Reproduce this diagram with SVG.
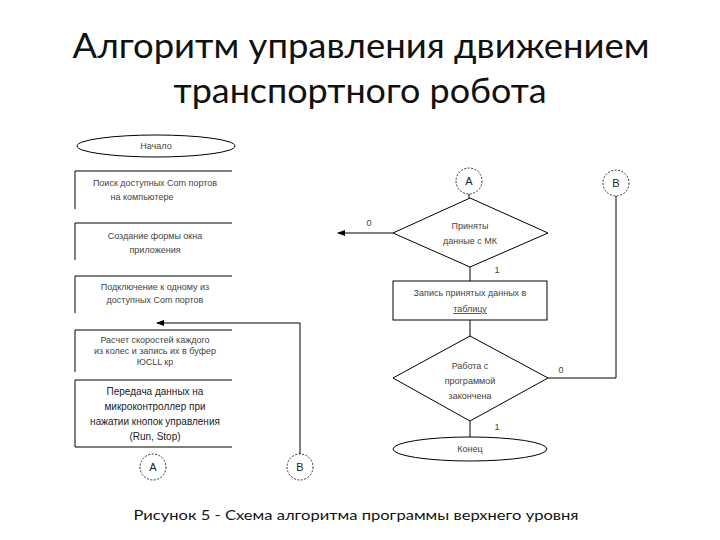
<svg xmlns="http://www.w3.org/2000/svg" width="720" height="540" viewBox="0 0 720 540">
<style>
.ln{fill:none;stroke:#000;stroke-width:1}
.sh{fill:#fff;stroke:#000;stroke-width:1}
.cn{fill:#fff;stroke:#000;stroke-width:0.8;stroke-dasharray:2,1.5}
.t{font-family:"Liberation Sans",Arial,sans-serif;font-size:9px;fill:#444;text-anchor:middle}
.tb{font-family:"Liberation Sans",Arial,sans-serif;font-size:10px;fill:#222;text-anchor:middle}
.tc{font-family:"Liberation Sans",Arial,sans-serif;font-size:11px;fill:#222;text-anchor:middle}
.title{font-family:Lato,"Open Sans",sans-serif;font-size:34px;fill:#111;text-anchor:middle}
.cap{font-family:Lato,"Open Sans",sans-serif;font-size:14px;fill:#111;text-anchor:middle}
</style>
<defs>
<marker id="ah" markerWidth="8" markerHeight="6" refX="7" refY="3" orient="auto" markerUnits="userSpaceOnUse">
<path d="M0,0 L8,3 L0,6 z" fill="#000"/>
</marker>
</defs>
<rect width="720" height="540" fill="#fff"/>
<text class="title" x="361" y="58" textLength="577" lengthAdjust="spacingAndGlyphs">Алгоритм управления движением</text>
<text class="title" x="360" y="103" textLength="373" lengthAdjust="spacingAndGlyphs">транспортного робота</text>

<g id="connectors">
<polyline class="ln" points="300,454 300,323 157,323" marker-end="url(#ah)"/>
<line class="ln" x1="469" y1="194" x2="469" y2="198"/>
<line class="ln" x1="393" y1="233" x2="338" y2="233" marker-end="url(#ah)"/>
<text class="t" x="369" y="226">0</text>
<line class="ln" x1="470" y1="267" x2="470" y2="281"/>
<text class="t" x="497" y="273">1</text>
<line class="ln" x1="470" y1="320" x2="470" y2="336"/>
<polyline class="ln" points="616,196 616,378 548,378"/>
<text class="t" x="561" y="373">0</text>
<line class="ln" x1="470" y1="421" x2="470" y2="437"/>
<text class="t" x="497" y="430">1</text>
</g>

<g id="start">
<ellipse class="sh" cx="156" cy="146" rx="79" ry="11"/>
<text class="t" x="156" y="149">Начало</text>
</g>
<g id="box1">
<path class="ln" d="M232,171 H75 V209"/>
<text class="t" x="155" y="186">Поиск доступных Com портов</text>
<text class="t" x="142" y="200">на компьютере</text>
</g>
<g id="box2">
<path class="ln" d="M232,223 H75 V260"/>
<text class="t" x="155" y="239">Создание формы окна</text>
<text class="t" x="155" y="253">приложения</text>
</g>
<g id="box3">
<path class="ln" d="M232,276 H75 V313"/>
<text class="t" x="155" y="290">Подключение к одному из</text>
<text class="t" x="155" y="303">доступных Com портов</text>
</g>
<g id="box4">
<path class="ln" d="M232,330 H75 V372"/>
<text class="t" x="155" y="343">Расчет скоростей каждого</text>
<text class="t" x="155" y="354">из колес и запись их в буфер</text>
<text class="t" x="155" y="365">ЮСLL кр</text>
</g>
<g id="box5">
<path class="ln" d="M232,380 H75 V447 H232"/>
<text class="tb" x="155" y="395">Передача данных на</text>
<text class="tb" x="155" y="410">микроконтроллер  при</text>
<text class="tb" x="155" y="425">нажатии кнопок управления</text>
<text class="tb" x="155" y="440">(Run, Stop)</text>
</g>
<g id="connA-left">
<circle class="cn" cx="153" cy="467" r="13"/>
<text class="tc" x="153" y="471">A</text>
</g>
<g id="connB-left">
<circle class="cn" cx="300" cy="467" r="13"/>
<text class="tc" x="300" y="471">B</text>
</g>

<g id="connA-right">
<circle class="cn" cx="469" cy="181" r="13"/>
<text class="tc" x="469" y="185">A</text>
</g>
<g id="connB-right">
<circle class="cn" cx="616" cy="183" r="13"/>
<text class="tc" x="616" y="187">B</text>
</g>
<g id="decision1">
<polygon class="sh" points="470,198 548,233 470,267 393,233"/>
<text class="t" x="470" y="229">Приняты</text>
<text class="t" x="470" y="244">данные с МК</text>
</g>
<g id="box6">
<rect class="sh" x="393" y="281" width="154" height="39"/>
<text class="t" x="470" y="296">Запись принятых данных в</text>
<text class="t" x="470" y="312" text-decoration="underline">таблицу</text>
</g>
<g id="decision2">
<polygon class="sh" points="470,336 548,378 470,421 393,378"/>
<text class="t" x="470" y="369">Работа с</text>
<text class="t" x="470" y="384">программой</text>
<text class="t" x="470" y="399">закончена</text>
</g>
<g id="end">
<ellipse class="sh" cx="470" cy="449" rx="77" ry="12"/>
<text class="t" x="470" y="452">Конец</text>
</g>

<text class="cap" x="356" y="520" textLength="445" lengthAdjust="spacingAndGlyphs">Рисунок 5 - Схема алгоритма программы верхнего уровня</text>
</svg>
